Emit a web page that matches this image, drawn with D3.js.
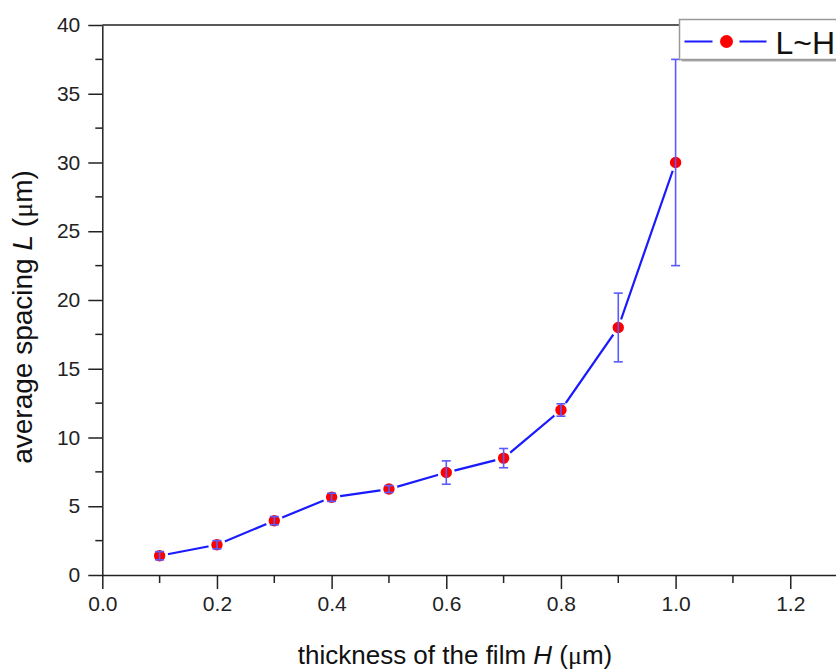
<!DOCTYPE html>
<html>
  <head>
    <script src="https://d3js.org/d3.v7.min.js"></script>
    <style>
      body { margin: 0; background: #fff; }
      text { font-family: "Liberation Sans", Arial, sans-serif; }
    </style>
  </head>
  <body>
    <script>

    // data
    var thickness = [0.1, 0.2, 0.3, 0.4, 0.5, 0.6, 0.7, 0.8, 0.9, 1.0];
    var spacing   = [1.4, 2.2, 3.95, 5.65, 6.25, 7.45, 8.5, 12.0, 18.0, 30.0];
    var spacingErr = [0.3, 0.3, 0.3, 0.3, 0.25, 0.85, 0.7, 0.45, 2.5, 7.5];
    var xTicks = [0.0, 0.2, 0.4, 0.6, 0.8, 1.0, 1.2];
    var yTicks = [0, 5, 10, 15, 20, 25, 30, 35, 40];
    var legendLabel = "L~H";

    var w = 836, h = 669;
    var padLeft = 102.3, padTop = 25, padBottom = 575;

    var svg = d3.select("body").append("svg")
      .attr("width", w).attr("height", h);

    var x = d3.scaleLinear().domain([0, 1.4]).range([padLeft, padLeft + 14 * 57.33]);
    var y = d3.scaleLinear().domain([0, 40]).range([padBottom, padTop]);

    // top frame line
    svg.append("line")
      .attr("x1", padLeft).attr("x2", x(1.4))
      .attr("y1", padTop).attr("y2", padTop)
      .attr("stroke", "#222").attr("stroke-width", 1.5);

    // x axis
    var xAxis = svg.append("g").attr("transform", "translate(0," + padBottom + ")")
      .call(d3.axisBottom(x).tickValues(xTicks).tickFormat(d3.format(".1f"))
        .tickSize(14).tickSizeOuter(0).tickPadding(7));
    xAxis.append("g").selectAll("line")
      .data(d3.range(0.1, 1.4, 0.2))
      .enter().append("line")
      .attr("x1", function(d) { return x(d); })
      .attr("x2", function(d) { return x(d); })
      .attr("y1", 0).attr("y2", 8);

    // y axis
    var yAxis = svg.append("g").attr("transform", "translate(" + padLeft + ",0)")
      .call(d3.axisLeft(y).tickValues(yTicks).tickSize(14).tickSizeOuter(0).tickPadding(8));
    yAxis.append("g").selectAll("line")
      .data(d3.range(2.5, 40, 5))
      .enter().append("line")
      .attr("y1", function(d) { return y(d); })
      .attr("y2", function(d) { return y(d); })
      .attr("x1", 0).attr("x2", -7);

    svg.selectAll(".domain").attr("stroke", "#222").attr("stroke-width", 1.5);
    yAxis.selectAll("line").attr("stroke", "#222").attr("stroke-width", 1.5);
    xAxis.selectAll("line").attr("stroke", "#222").attr("stroke-width", 1.5);
    svg.selectAll(".tick text")
      .attr("font-size", "21px").attr("fill", "#222")
      .style("font-family", "'Liberation Sans', Arial, sans-serif");

    // connecting line
    var pts = thickness.map(function(d, i) { return [d, spacing[i]]; });
    svg.append("path")
      .datum(pts)
      .attr("fill", "none")
      .attr("stroke", "#1a1aff")
      .attr("stroke-width", 2.2)
      .attr("d", d3.line()
        .x(function(d) { return x(d[0]); })
        .y(function(d) { return y(d[1]); }));

    // markers with white halo (line gap)
    svg.selectAll("circle.pt")
      .data(pts)
      .enter().append("circle")
      .attr("class", "pt")
      .attr("cx", function(d) { return x(d[0]); })
      .attr("cy", function(d) { return y(d[1]); })
      .attr("r", 7.2)
      .attr("fill", "#ff0000")
      .attr("stroke", "#fff")
      .attr("stroke-width", 3);

    // error bars drawn above markers
    var eb = svg.append("g").attr("stroke", "#5a5aff").attr("stroke-width", 1.6);
    thickness.forEach(function(t, i) {
      var cx = x(t), y1 = y(spacing[i] + spacingErr[i]), y2 = y(spacing[i] - spacingErr[i]);
      eb.append("line").attr("x1", cx).attr("x2", cx).attr("y1", y1).attr("y2", y2);
      eb.append("line").attr("x1", cx - 4.5).attr("x2", cx + 4.5).attr("y1", y1).attr("y2", y1);
      eb.append("line").attr("x1", cx - 4.5).attr("x2", cx + 4.5).attr("y1", y2).attr("y2", y2);
    });

    // legend
    var lg = svg.append("g").attr("transform", "translate(679.5,19.5)");
    lg.append("rect").attr("x", 2).attr("y", 2).attr("width", 200).attr("height", 40)
      .attr("fill", "#aaa");
    lg.append("rect").attr("width", 200).attr("height", 40)
      .attr("fill", "#fff").attr("stroke", "#999").attr("stroke-width", 1.5);
    lg.append("line").attr("x1", 5).attr("x2", 33).attr("y1", 22).attr("y2", 22)
      .attr("stroke", "#1a1aff").attr("stroke-width", 2);
    lg.append("line").attr("x1", 60).attr("x2", 87).attr("y1", 22).attr("y2", 22)
      .attr("stroke", "#1a1aff").attr("stroke-width", 2);
    lg.append("circle").attr("cx", 47).attr("cy", 22).attr("r", 6.5).attr("fill", "#ff0000");
    lg.append("text").attr("x", 96).attr("y", 34)
      .attr("font-size", "32px").attr("fill", "#111").text(legendLabel);

    // axis titles
    var xt = svg.append("text")
      .attr("x", 455).attr("y", 664)
      .attr("text-anchor", "middle")
      .attr("font-size", "26px").attr("fill", "#111");
    xt.append("tspan").text("thickness of the film ");
    xt.append("tspan").attr("font-style", "italic").text("H");
    xt.append("tspan").text(" (");
    xt.append("tspan").style("font-family", "'Liberation Serif', serif").text("\u03bc");
    xt.append("tspan").text("m)");

    var yt = svg.append("text")
      .attr("transform", "translate(32,317) rotate(-90)")
      .attr("text-anchor", "middle")
      .attr("font-size", "28px").attr("fill", "#111");
    yt.append("tspan").text("average spacing ");
    yt.append("tspan").attr("font-style", "italic").text("L");
    yt.append("tspan").text(" (");
    yt.append("tspan").style("font-family", "'Liberation Serif', serif").text("\u03bc");
    yt.append("tspan").text("m)");

    </script>
  </body>
</html>
